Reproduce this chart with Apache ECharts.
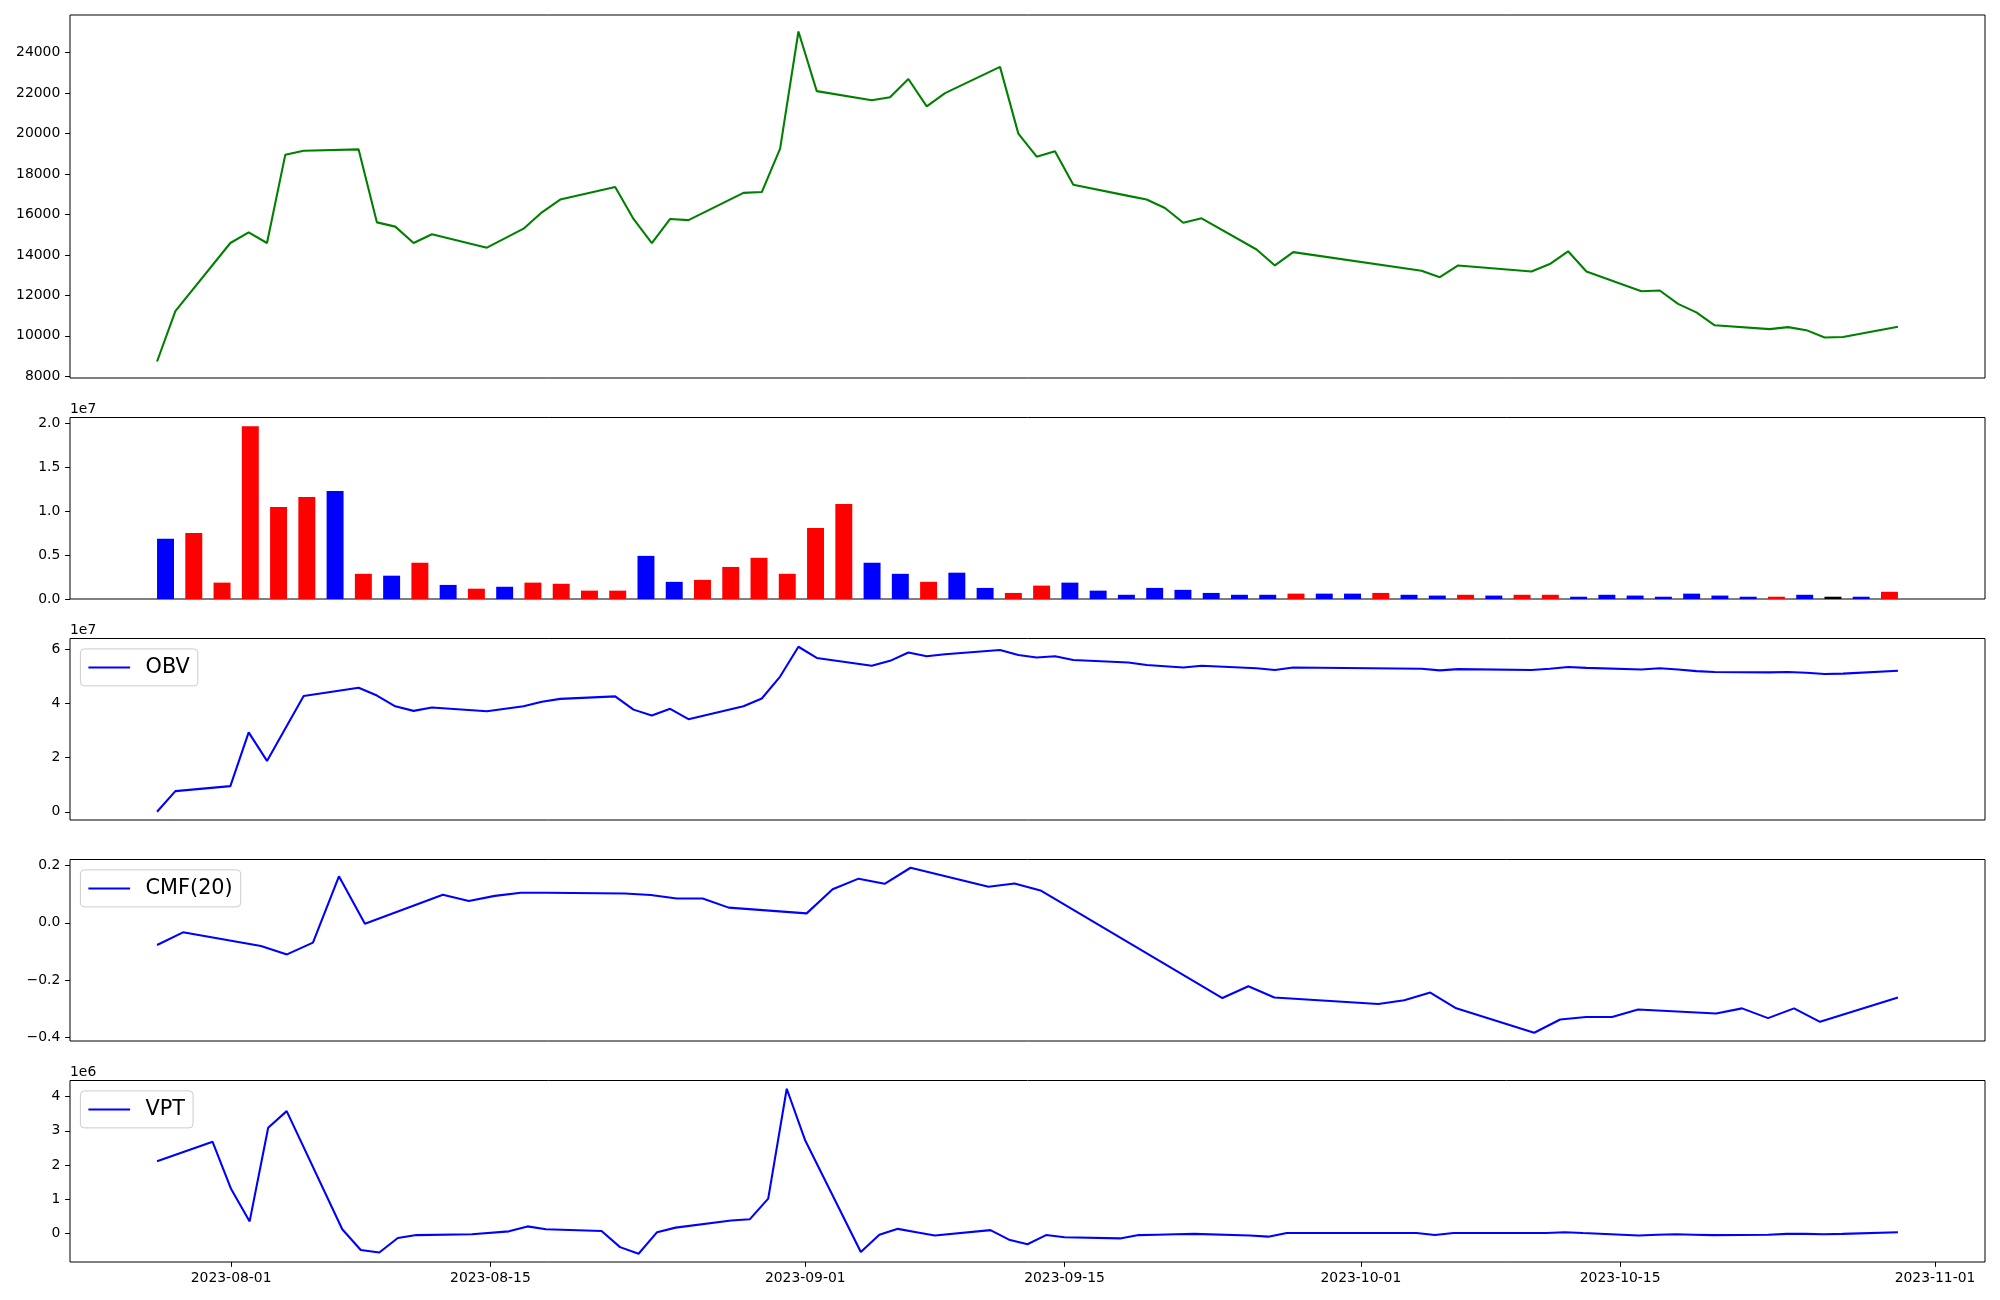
<!DOCTYPE html>
<html><head><meta charset="utf-8">
<script src="https://cdn.jsdelivr.net/npm/echarts@6/dist/echarts.min.js"></script>
<style>html,body{margin:0;padding:0;background:#fff}#chart{width:2000px;height:1300px}</style>
</head><body><div id="chart"></div>
<script>
// ---------------- data ----------------
const dates = ['2023-07-27','2023-07-28','2023-07-31','2023-08-01','2023-08-02','2023-08-03','2023-08-04',
 '2023-08-07','2023-08-08','2023-08-09','2023-08-10','2023-08-11','2023-08-14','2023-08-16','2023-08-17','2023-08-18',
 '2023-08-21','2023-08-22','2023-08-23','2023-08-24','2023-08-25','2023-08-28','2023-08-29','2023-08-30','2023-08-31',
 '2023-09-01','2023-09-04','2023-09-05','2023-09-06','2023-09-07','2023-09-08','2023-09-11','2023-09-12','2023-09-13',
 '2023-09-14','2023-09-15','2023-09-18','2023-09-19','2023-09-20','2023-09-21','2023-09-22','2023-09-25','2023-09-26',
 '2023-09-27','2023-10-04','2023-10-05','2023-10-06','2023-10-10','2023-10-11','2023-10-12','2023-10-13','2023-10-16',
 '2023-10-17','2023-10-18','2023-10-19','2023-10-20','2023-10-23','2023-10-24','2023-10-25','2023-10-26','2023-10-27',
 '2023-10-30'];

const price = [8730,11220,14590,15120,14590,18960,19150,19220,15610,15400,14590,15020,14360,15300,16110,16740,
 17360,15780,14590,15780,15720,17070,17110,19260,25050,22100,21650,21800,22700,21350,22000,23300,20000,18860,
 19130,17470,16920,16740,16320,15590,15810,14270,13480,14140,13220,12900,13480,13180,13550,14180,13180,12200,
 12240,11580,11160,10520,10330,10430,10280,9920,9940,10450];

const volume = [6850000,7500000,1860000,19640000,10450000,11580000,12270000,2860000,2650000,4120000,1600000,
 1170000,1390000,1860000,1730000,950000,950000,4900000,1950000,2170000,3640000,4680000,2860000,8070000,10800000,
 4120000,2860000,1950000,2990000,1260000,690000,1520000,1860000,950000,480000,1260000,1040000,690000,480000,480000,
 610000,610000,610000,690000,480000,390000,480000,390000,480000,480000,260000,480000,390000,260000,610000,390000,
 260000,260000,480000,260000,260000,820000];

// u = up day, d = down day, n = unchanged
const volumeSide = ['d','u','u','u','u','u','d','u','d','u','d','u','d','u','u','u','u','d','d','u',
 'u','u','u','u','u','d','d','u','d','d','u','u','d','d','d','d','d','d','d','d',
 'u','d','d','u','d','d','u','d','u','u','d','d','d','d','d','d','d','u','d','n','d','u'];

const obv = [0,7610000,9440000,29270000,18750000,30720000,42690000,45750000,42850000,38880000,37200000,38430000,
 37050000,38880000,40560000,41630000,42540000,37660000,35530000,37970000,34150000,38880000,41780000,49860000,
 60850000,56730000,53830000,55660000,58710000,57340000,58100000,59630000,57800000,56880000,57340000,55960000,
 55050000,54140000,53680000,53220000,53830000,52910000,52300000,53220000,52760000,52150000,52610000,52300000,
 52760000,53370000,53070000,52460000,52910000,52460000,51850000,51540000,51390000,51540000,51240000,50780000,
 50930000,52000000];

const cmfStart = 19;   // CMF(20) is defined from the 20th session on
const cmf = [-0.077,-0.033,-0.081,-0.110,-0.069,0.162,-0.003,0.098,0.076,0.094,0.105,0.105,0.102,0.097,0.085,0.085,
 0.053,0.033,0.117,0.154,0.136,0.192,0.126,0.137,0.113,-0.262,-0.221,-0.260,
 -0.283,-0.270,-0.243,-0.298,-0.383,-0.337,-0.328,-0.328,-0.302,-0.316,-0.298,-0.332,-0.298,-0.345,-0.260];

const vptStart = 1;
const vpt = [2110000,2679000,1299000,355000,3091000,3575000,125000,-480000,-553000,-129000,-44000,-20000,65000,
 210000,125000,77000,-395000,-589000,41000,174000,
 380000,416000,1021000,4229000,2716000,-540000,-32000,138000,41000,-56000,101000,-177000,-310000,-44000,-105000,
 -141000,-44000,-32000,-20000,-8000,-56000,-90000,
 16000,16000,-44000,16000,16000,16000,41000,16000,-56000,-32000,-20000,-32000,-44000,-32000,-8000,-8000,-20000,
 -8000,41000];

const priceTicks = [8000,10000,12000,14000,16000,18000,20000,22000,24000];
const volumeTicks = [0,5000000,10000000,15000000,20000000];
const obvTicks = [0,20000000,40000000,60000000];
const cmfTicks = [-0.4,-0.2,0.0,0.2];
const vptTicks = [0,1000000,2000000,3000000,4000000];
const dateTickLabels = ['2023-08-01','2023-08-15','2023-09-01','2023-09-15','2023-10-01','2023-10-15','2023-11-01'];

// ---------------- helpers ----------------
function dayNum(s){ const p = s.split('-').map(Number); return Date.UTC(p[0], p[1]-1, p[2]) / 86400000; }
function padRange(lo, hi){ const r = hi - lo; return [lo - 0.05*r, hi + 0.05*r]; }
function minus(s){ return s.replace('-', '\u2212'); }

const FONT = 'DejaVu Sans';
const L = 70, W = 1915;
const tops = [15, 417.5, 638.5, 859.5, 1080.5];
const heights = [363, 181.5, 181.5, 181.5, 181.5];

const dn = dates.map(dayNum);
const priceData = price.map((v,i)=>[dn[i], v]);
const obvData = obv.map((v,i)=>[dn[i], v]);
const cmfData = cmf.map((v,i)=>[dn[cmfStart+i], v]);
const vptData = vpt.map((v,i)=>[dn[vptStart+i], v]);

function xr(data){ return padRange(data[0][0], data[data.length-1][0]); }
function yr(data){ const ys = data.map(d=>d[1]); return padRange(Math.min(...ys), Math.max(...ys)); }

const xPrice = xr(priceData), xObv = xr(obvData), xCmf = xr(cmfData), xVpt = xr(vptData);
const yPrice = yr(priceData), yObv = yr(obvData), yCmf = yr(cmfData), yVpt = yr(vptData);
const volMax = Math.max(...volume);
const xVol = padRange(-0.3, volume.length - 1 + 0.3);
const yVol = [0, volMax * 1.05];
const barW = 0.6 * W / (xVol[1] - xVol[0]);

const sideColor = {u:'#ff0000', d:'#0000ff', n:'#000000'};
const dateTickDays = dateTickLabels.map(dayNum);
const dateLabelMap = {}; dateTickDays.forEach((d,i)=>{ dateLabelMap[d] = dateTickLabels[i]; });

function hiddenX(idx, r){
  return {type:'value', gridIndex:idx, min:r[0], max:r[1], show:true,
    axisLine:{show:false, onZero:false}, axisTick:{show:false}, axisLabel:{show:false}, splitLine:{show:false}};
}
function yAxis(idx, r, ticks, fmt){
  return {type:'value', gridIndex:idx, min:r[0], max:r[1], position:'left',
    axisLine:{show:false, onZero:false}, splitLine:{show:false},
    axisTick:{show:true, length:4.9, lineStyle:{color:'#000', width:1}, customValues:ticks},
    axisLabel:{show:true, customValues:ticks, formatter:fmt, fontSize:13.9, fontFamily:FONT, color:'#000', margin:9.7}};
}
function legend(name, top){
  return {show:true, left:L+10.4, top:top+10.4, orient:'vertical', selectedMode:false,
    data:[{name:name, icon:'rect'}], itemWidth:41.7, itemHeight:2,
    padding:[8,8,8,8], borderColor:'#cccccc', borderWidth:1, borderRadius:4,
    backgroundColor:'rgba(255,255,255,0.8)',
    textStyle:{fontSize:20.8, fontFamily:FONT, color:'#000', padding:[0,0,0,10.5], lineHeight:21}};
}

const grids = tops.map((t,i)=>({left:L, top:t, width:W, height:heights[i], show:true,
  borderColor:'#000', borderWidth:1, backgroundColor:'#fff', containLabel:false}));

const option = {
  animation:false,
  backgroundColor:'#fff',
  grid: grids,
  xAxis: [
    hiddenX(0, xPrice),
    hiddenX(1, xVol),
    hiddenX(2, xObv),
    hiddenX(3, xCmf),
    {type:'value', gridIndex:4, min:xVpt[0], max:xVpt[1], position:'bottom',
      axisLine:{show:false, onZero:false}, splitLine:{show:false},
      axisTick:{show:true, length:4.9, lineStyle:{color:'#000', width:1}, customValues:dateTickDays},
      axisLabel:{show:true, customValues:dateTickDays, formatter:v=>dateLabelMap[Math.round(v)]||'',
        fontSize:13.9, fontFamily:FONT, color:'#000', margin:9.2}}
  ],
  yAxis: [
    yAxis(0, yPrice, priceTicks, v=>String(Math.round(v))),
    yAxis(1, yVol, volumeTicks, v=>(v/1e7).toFixed(1)),
    yAxis(2, yObv, obvTicks, v=>String(Math.round(v/1e7))),
    yAxis(3, yCmf, cmfTicks, v=>{ const s=(Math.round(v*10)/10).toFixed(1); return s==='-0.0'?'0.0':minus(s); }),
    yAxis(4, yVpt, vptTicks, v=>String(Math.round(v/1e6)))
  ],
  legend: [legend('OBV', tops[2]), legend('CMF(20)', tops[3]), legend('VPT', tops[4])],
  graphic: [
    {type:'text', left:L, top:tops[1]-15, style:{text:'1e7', font:'13.9px "DejaVu Sans"', fill:'#000'}},
    {type:'text', left:L, top:tops[2]-15, style:{text:'1e7', font:'13.9px "DejaVu Sans"', fill:'#000'}},
    {type:'text', left:L, top:tops[4]-15, style:{text:'1e6', font:'13.9px "DejaVu Sans"', fill:'#000'}}
  ],
  series: [
    {name:'Close', type:'line', xAxisIndex:0, yAxisIndex:0, data:priceData, showSymbol:false,
      lineStyle:{color:'#008000', width:2.08}, itemStyle:{color:'#008000'}},
    {name:'Volume', type:'bar', xAxisIndex:1, yAxisIndex:1, barWidth:barW,
      data: volume.map((v,i)=>({value:[i, v], itemStyle:{color:sideColor[volumeSide[i]]}}))},
    {name:'OBV', type:'line', xAxisIndex:2, yAxisIndex:2, data:obvData, showSymbol:false,
      lineStyle:{color:'#0000ff', width:2.08}, itemStyle:{color:'#0000ff'}},
    {name:'CMF(20)', type:'line', xAxisIndex:3, yAxisIndex:3, data:cmfData, showSymbol:false,
      lineStyle:{color:'#0000ff', width:2.08}, itemStyle:{color:'#0000ff'}},
    {name:'VPT', type:'line', xAxisIndex:4, yAxisIndex:4, data:vptData, showSymbol:false,
      lineStyle:{color:'#0000ff', width:2.08}, itemStyle:{color:'#0000ff'}}
  ]
};

const chart = echarts.init(document.getElementById('chart'), null, {renderer:'canvas', width:2000, height:1300});
chart.setOption(option);
</script></body></html>
